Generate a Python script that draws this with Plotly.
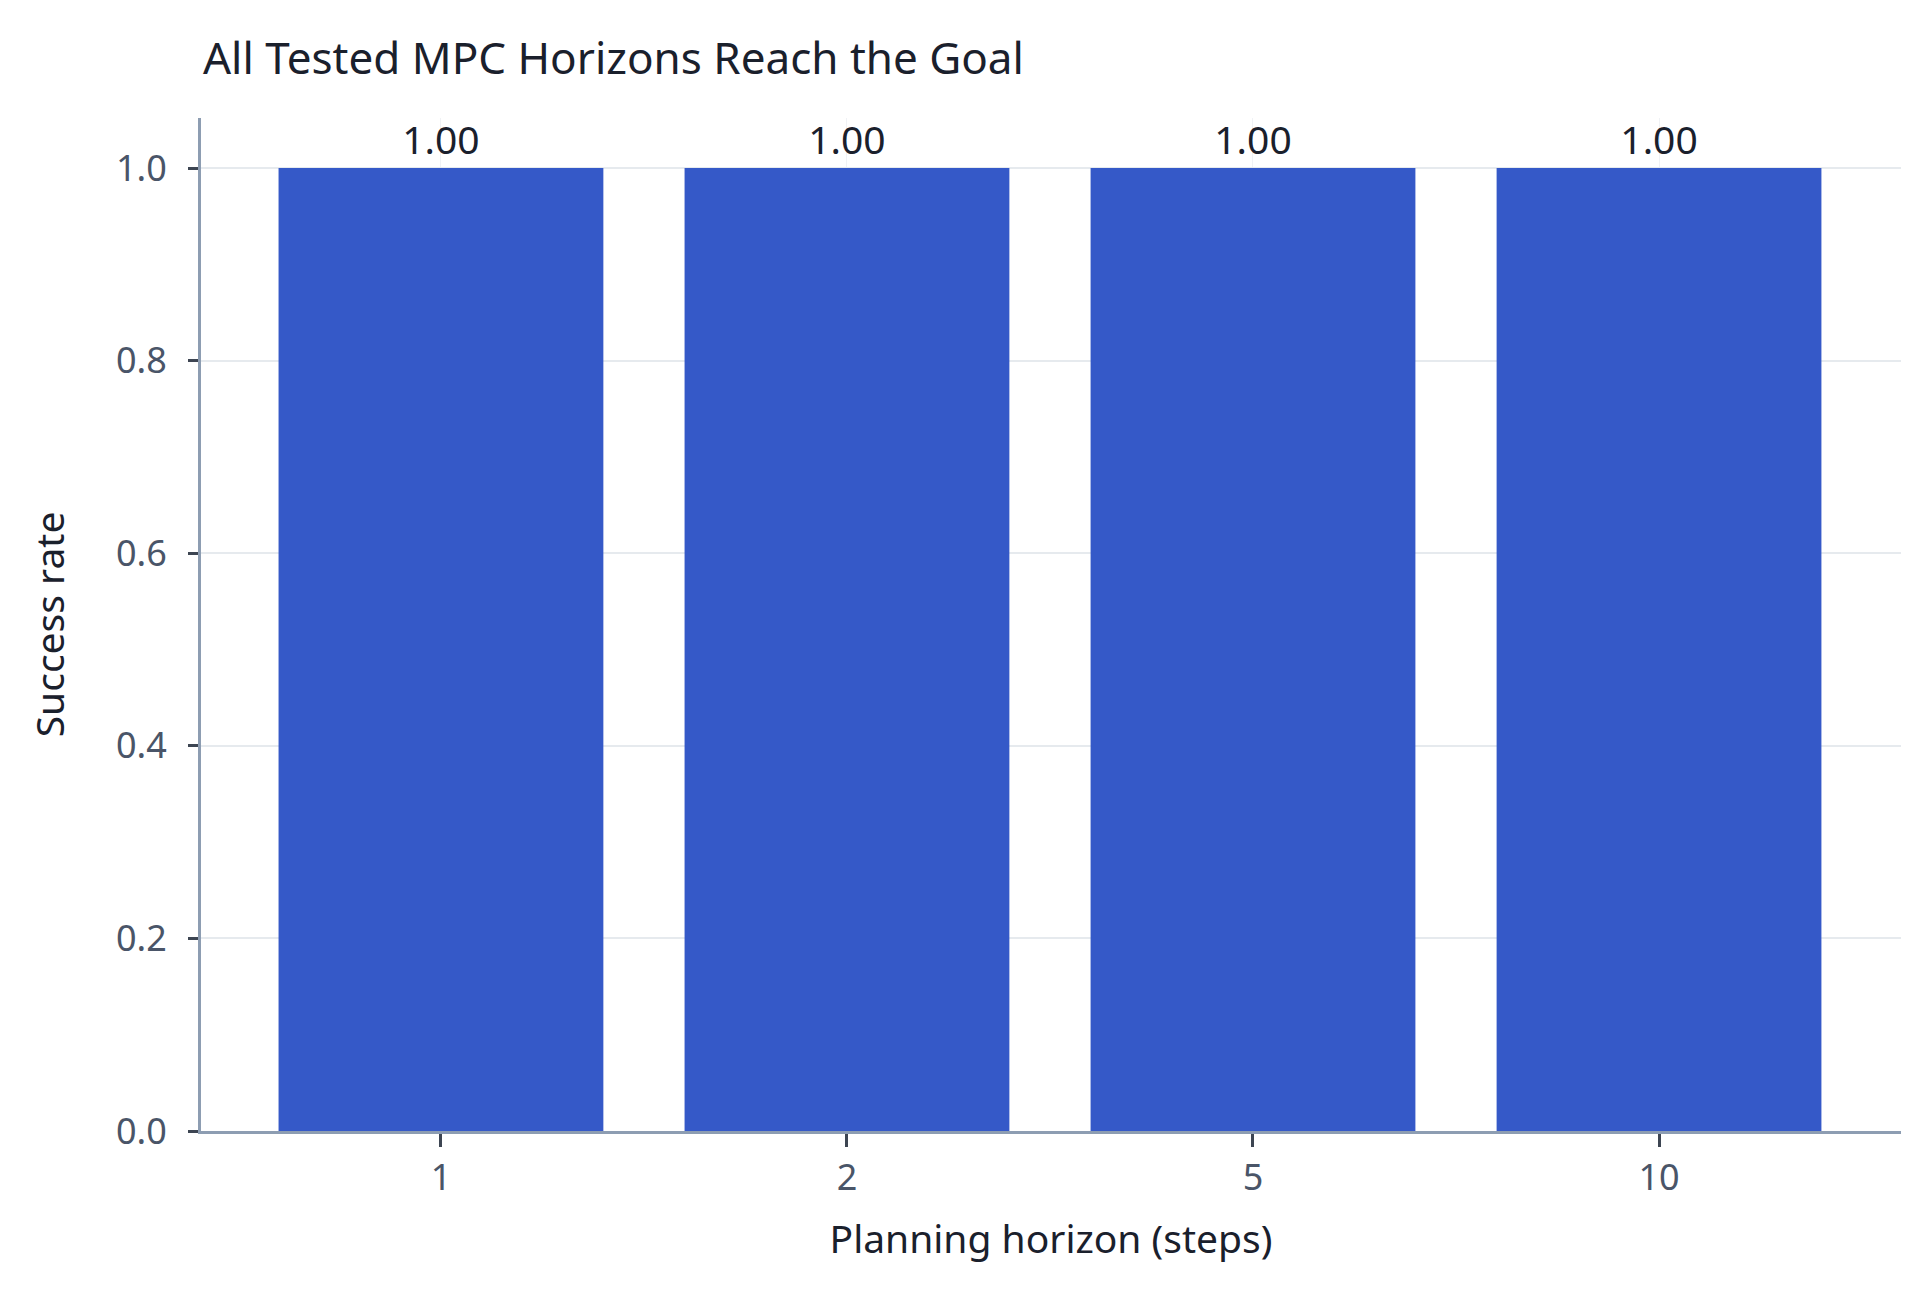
import plotly.graph_objects as go

# MPC planning horizon vs success rate
horizons = ["1", "2", "5", "10"]
success_rate = [1.0, 1.0, 1.0, 1.0]
bar_labels = ["1.00", "1.00", "1.00", "1.00"]

fig = go.Figure()
fig.add_trace(go.Bar(
    x=horizons,
    y=success_rate,
    text=bar_labels,
    textposition="outside",
    cliponaxis=False,
    textfont=dict(size=39, color="#1a202c"),
    marker=dict(color="#3559c8", line=dict(width=0)),
    showlegend=False,
))

fig.update_layout(
    width=1920,
    height=1292,
    font=dict(family="Noto Sans", color="#1a202c"),
    paper_bgcolor="white",
    plot_bgcolor="white",
    bargap=0.2,
    margin=dict(l=193, r=27, t=110, b=169),
    title=dict(text="All Tested MPC Horizons Reach the Goal", x=195/1920, xanchor="left",
               y=1-51/1292, yanchor="middle", font=dict(size=44, color="#1a202c")),
)
fig.update_xaxes(
    type="category",
    range=[-0.591, 3.596],
    title=dict(text="Planning horizon (steps)", font=dict(size=39, color="#1a202c"), standoff=26),
    tickfont=dict(size=36, color="#4a5568"),
    showline=True, linecolor="#8d9db2", linewidth=3,
    ticks="outside", ticklen=13, tickwidth=3, tickcolor="#3d4552",
    showgrid=True, gridcolor="#f0f2f5",
)
fig.update_yaxes(
    range=[0, 1.052],
    tickvals=[0, 0.2, 0.4, 0.6, 0.8, 1.0],
    tickformat=".1f",
    title=dict(text="Success rate", font=dict(size=39, color="#1a202c"), standoff=40),
    tickfont=dict(size=36, color="#4a5568"),
    ticklabelstandoff=14,
    showline=True, linecolor="#8d9db2", linewidth=3,
    ticks="outside", ticklen=10, tickwidth=3, tickcolor="#3d4552",
    showgrid=True, gridcolor="#e6eaee", gridwidth=2,
    zeroline=False,
)

fig.write_html("out.html")
